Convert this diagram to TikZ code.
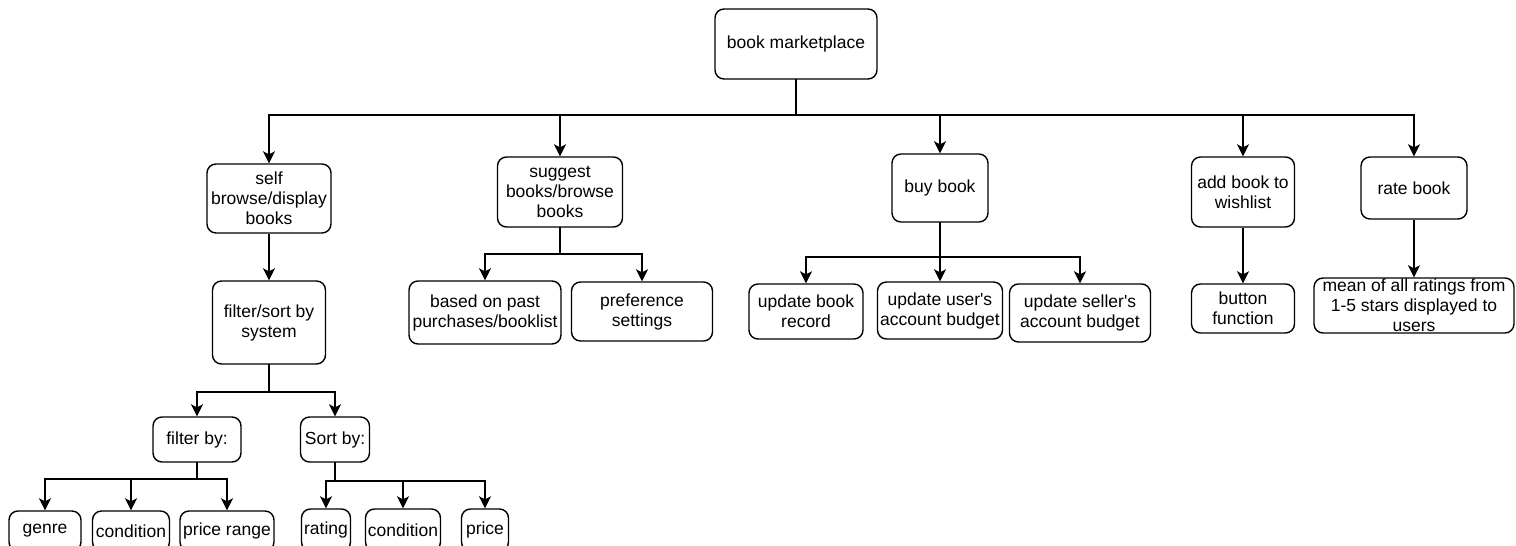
\documentclass[tikz,border=0pt]{standalone}
\usepackage{fontspec}
\setmainfont{Liberation Sans}
\usetikzlibrary{arrows.meta}
\begin{document}
\begin{tikzpicture}[x=1pt,y=-1pt,
  box/.style={draw, rounded corners=9pt, line width=1.4pt, align=center, inner sep=0pt,
    font=\fontsize{17.5}{20}\selectfont},
  sz/.style 2 args={minimum width=#1pt, minimum height=#2pt},
  ln/.style={line width=1.5pt, line cap=rect},
  arr/.style={-{Stealth[length=12pt,width=12pt,inset=3pt]}, line width=1.5pt}]
\useasboundingbox (0,0) rectangle (1516,546);
\clip (0,0) rectangle (1516,546);
% level 0
\node[box, sz={162}{70}] (root) at (796,44) {book marketplace};
% level 1
\node[box, sz={124}{69}] (self) at (269,198.5) {self\\browse/display\\books};
\node[box, sz={125}{70}] (sugg) at (560,192) {suggest\\books/browse\\books};
\node[box, sz={96}{68}] (buy) at (940,188) {buy book};
\node[box, sz={103}{70}] (wish) at (1243,192) {add book to\\wishlist};
\node[box, sz={106}{62}] (rate) at (1414,188) {rate book};
% level 2
\node[box, sz={113}{83}] (fsys) at (269,322.5) {filter/sort by\\system};
\node[box, sz={152}{63}] (past) at (485,312.5) {based on past\\purchases/booklist};
\node[box, sz={141}{59}] (pref) at (642,311.5) {preference\\settings};
\node[box, sz={114}{55}] (ubr) at (806,311.5) {update book\\record};
\node[box, sz={125}{57}] (uuser) at (940,310.5) {update user\textquotesingle s\\account budget};
\node[box, sz={141}{58}] (usell) at (1080,313) {update seller\textquotesingle s\\account budget};
\node[box, sz={103}{49}] (button) at (1243,308.5) {button\\function};
\node[box, sz={200}{55}] (mean) at (1414,305.5) {mean of all ratings from\\1-5 stars displayed to\\users};
% level 3
\node[box, sz={88}{45}] (filt) at (197,439.5) {filter by:};
\node[box, sz={69}{45}] (sortb) at (335,439.5) {Sort by:};
% level 4
\node[box, sz={72}{40}] (genre) at (45,531) {genre};
\node[box, sz={77}{40}] (condA) at (131,531) {condition};
\node[box, sz={94}{40}] (prange) at (227,531) {price range};
\node[box, sz={49}{42}] (rating) at (326,530) {rating};
\node[box, sz={75}{42}] (condB) at (403,530) {condition};
\node[box, sz={47}{42}] (price) at (485,530) {price};
% bus coordinates
\coordinate (b0) at (796,115);
\coordinate (b1) at (560,254);
\coordinate (b2) at (940,257);
\coordinate (b3) at (269,392);
\coordinate (b4) at (197,479);
\coordinate (b5) at (335,481);
% stems and buses
\draw[ln] (root.south) -- (b0);
\draw[ln] (self.north |- b0) -- (rate.north |- b0);
\draw[ln] (sugg.south) -- (b1);
\draw[ln] (past.north |- b1) -- (pref.north |- b1);
\draw[ln] (buy.south) -- (b2);
\draw[ln] (ubr.north |- b2) -- (usell.north |- b2);
\draw[ln] (fsys.south) -- (b3);
\draw[ln] (filt.north |- b3) -- (sortb.north |- b3);
\draw[ln] (filt.south) -- (b4);
\draw[ln] (genre.north |- b4) -- (prange.north |- b4);
\draw[ln] (sortb.south) -- (b5);
\draw[ln] (rating.north |- b5) -- (price.north |- b5);
% arrows
\foreach \n in {self,sugg,buy,wish,rate} \draw[arr] (\n.north |- b0) -- (\n.north);
\foreach \n in {past,pref} \draw[arr] (\n.north |- b1) -- (\n.north);
\foreach \n in {ubr,uuser,usell} \draw[arr] (\n.north |- b2) -- (\n.north);
\foreach \n in {filt,sortb} \draw[arr] (\n.north |- b3) -- (\n.north);
\foreach \n in {genre,condA,prange} \draw[arr] (\n.north |- b4) -- (\n.north);
\foreach \n in {rating,condB,price} \draw[arr] (\n.north |- b5) -- (\n.north);
\draw[arr] (self) -- (fsys);
\draw[arr] (wish) -- (button);
\draw[arr] (rate) -- (mean);
\end{tikzpicture}
\end{document}
